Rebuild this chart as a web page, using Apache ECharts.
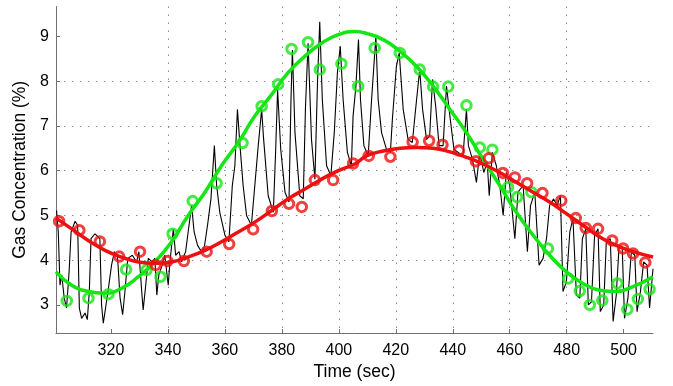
<!DOCTYPE html>
<html>
<head>
<meta charset="utf-8">
<script src="https://cdn.jsdelivr.net/npm/echarts/dist/echarts.min.js"></script>
<style>html,body{margin:0;padding:0;background:#fff;}#c{width:673px;height:386px;}</style>
</head>
<body>
<div id="c"></div>
<script>
const xTicks = [320, 340, 360, 380, 400, 420, 440, 460, 480, 500];
const yTicks = [3, 4, 5, 6, 7, 8, 9];

const traceX = [300.9,301.5,302.1,302.7,303.6,304.4,305.3,306.0,307.4,308.3,308.9,309.7,310.9,311.7,312.4,313.0,314.4,316.1,316.7,317.3,318.1,319.1,320.2,321.2,322.3,323.2,324.1,324.9,325.9,327.5,329.0,329.8,330.8,331.3,332.2,333.1,334.5,335.4,336.1,336.8,338.0,338.9,340.1,340.7,341.9,342.7,343.9,344.8,346.2,347.1,348.3,349.2,350.4,351.8,352.8,353.9,355.1,356.3,357.1,358.2,360.0,361.4,362.6,363.5,364.4,365.3,366.4,367.6,369.3,370.5,371.7,372.9,373.6,375.2,377.0,377.8,378.5,379.6,381.1,382.5,383.2,383.7,384.6,386.3,387.5,388.3,389.2,390.4,391.6,392.5,393.3,394.2,395.7,397.2,398.4,399.5,400.5,401.5,403.0,404.4,405.0,406.0,406.9,407.6,408.8,410.3,411.5,413.0,413.8,415.0,416.7,418.1,418.8,420.2,421.2,422.6,424.3,425.8,427.3,428.4,429.4,430.8,431.9,432.9,434.0,435.2,436.6,437.8,439.0,440.4,441.9,443.6,444.8,445.5,446.9,448.3,449.5,450.9,452.1,452.8,453.9,455.3,456.5,457.7,458.8,460.0,461.8,462.9,464.7,466.2,467.3,468.8,470.3,471.7,472.9,474.0,475.4,476.6,477.8,478.7,479.9,481.1,482.2,483.4,484.6,485.5,486.7,487.6,488.7,489.8,491.0,491.8,493.0,493.9,495.3,496.3,497.4,498.4,499.5,500.3,501.5,502.7,503.9,504.7,505.9,507.0,508.2,509.1,510.3];
const traceY = [5.11,4.63,3.44,3.67,3.15,2.93,3.74,4.63,4.87,4.78,2.93,2.70,2.82,2.67,3.30,4.48,4.59,4.48,3.00,2.59,2.93,3.37,3.89,4.19,4.07,3.15,2.78,3.30,4.04,4.11,3.96,4.19,3.30,2.89,3.44,4.04,3.96,4.04,3.22,3.67,3.89,4.11,3.44,3.96,4.70,4.11,4.19,3.96,4.19,4.63,5.22,4.63,4.33,4.19,4.30,4.78,5.37,6.56,5.67,5.07,4.56,4.41,5.67,6.11,7.37,6.56,5.67,5.00,4.78,5.67,6.56,7.37,6.70,5.44,5.07,6.41,7.81,6.48,5.52,5.30,7.59,8.70,6.85,5.44,5.37,7.44,8.85,6.70,5.81,7.96,9.33,7.59,6.11,5.89,6.85,8.19,8.78,7.59,6.41,6.11,7.22,7.89,8.93,7.59,6.56,6.33,7.59,9.00,7.59,6.85,6.48,6.41,7.15,8.33,8.63,7.37,6.70,6.63,7.59,8.26,7.37,6.70,6.78,8.04,7.44,6.56,6.56,7.89,7.22,6.48,6.41,6.33,7.37,6.56,6.26,5.74,6.41,5.96,6.19,5.44,6.41,6.11,5.67,5.00,5.96,5.67,4.48,5.52,5.67,4.19,5.22,5.52,3.89,4.04,4.48,5.22,5.37,5.22,5.44,3.30,3.52,4.63,4.93,3.22,3.15,4.48,4.70,3.00,3.07,4.56,4.70,2.85,3.00,4.41,4.48,2.63,3.22,4.33,4.26,2.70,3.15,4.19,4.11,2.85,3.30,3.96,3.89,2.93,3.81];

const redX = [301.8,308.9,316.1,322.9,330.2,335.7,339.8,345.6,353.6,361.5,369.9,376.5,382.5,387.0,391.6,398.0,405.0,410.5,418.1,425.9,431.7,436.4,442.2,448.1,452.7,457.6,461.8,466.1,471.5,478.1,483.2,486.7,491.0,496.0,499.8,503.3,507.6];
const redY = [4.87,4.67,4.42,4.08,4.19,3.89,3.98,3.98,4.19,4.36,4.69,5.10,5.26,5.19,5.79,5.79,6.16,6.33,6.31,6.64,6.67,6.58,6.45,6.21,6.28,5.95,5.85,5.72,5.50,5.33,4.94,4.72,4.70,4.44,4.26,4.15,3.95];

const greenX = [304.5,312.1,319.1,325.3,332.5,337.4,341.6,348.7,357.1,366.2,372.9,378.7,383.4,389.2,393.3,400.9,406.8,412.6,421.4,428.4,433.1,438.4,444.8,449.5,453.9,459.4,462.6,467.6,473.4,480.5,484.6,488.1,492.5,497.8,501.3,505.0,509.1];
const greenY = [3.09,3.15,3.24,3.79,3.78,3.63,4.59,5.32,5.72,6.62,7.44,7.93,8.72,8.87,8.26,8.39,7.89,8.74,8.63,8.26,7.88,7.88,7.46,6.52,6.47,5.63,5.41,5.52,4.26,3.59,3.31,3.00,3.10,3.48,2.90,3.13,3.35];

const greenFitX = [300.7,306.2,312.0,317.9,323.7,329.6,335.4,341.3,347.1,353.0,358.8,364.7,370.5,376.4,382.2,388.1,393.9,399.8,405.6,409.7,415.6,421.4,427.3,433.1,439.0,444.8,450.6,456.5,462.3,468.2,474.0,479.9,485.7,491.6,497.4,503.3,510.3];
const greenFitY = [3.74,3.44,3.30,3.26,3.37,3.63,3.96,4.41,5.00,5.52,6.11,6.63,7.22,7.70,8.19,8.56,8.85,9.04,9.11,9.07,8.93,8.67,8.33,7.89,7.37,6.85,6.26,5.67,5.07,4.56,4.11,3.74,3.48,3.33,3.30,3.41,3.63];

const redFitX = [300.7,306.2,312.0,317.9,323.7,329.6,335.4,341.3,347.1,353.0,358.8,364.7,370.5,376.4,382.2,388.1,393.9,399.8,405.6,409.7,415.6,421.4,427.3,433.1,439.0,444.8,450.6,456.5,462.3,468.2,474.0,479.9,485.7,491.6,497.4,503.3,510.3];
const redFitY = [4.94,4.70,4.44,4.22,4.07,3.96,3.93,3.96,4.07,4.22,4.41,4.63,4.85,5.11,5.37,5.59,5.81,6.00,6.15,6.33,6.44,6.50,6.52,6.50,6.42,6.30,6.15,5.96,5.74,5.52,5.30,5.04,4.78,4.52,4.33,4.19,4.07];

const zip = (xs, ys) => xs.map((x, i) => [x, ys[i]]);
const GREEN = '#14e614';
const RED = '#ee1010';
const AXIS = '#707070';
const FONT = 'Liberation Sans, Arial, Helvetica, sans-serif';

const chart = echarts.init(document.getElementById('c'), null, {renderer: 'canvas'});
chart.setOption({
  animation: false,
  backgroundColor: '#fff',
  grid: {left: 56, right: 20, top: 6.5, bottom: 51, containLabel: false},
  xAxis: {
    type: 'value', min: 300.7, max: 510.3,
    name: 'Time (sec)', nameLocation: 'middle', nameGap: 28,
    nameTextStyle: {fontSize: 17.5, color: '#000', fontFamily: FONT},
    axisLine: {show: true, lineStyle: {color: AXIS, width: 1}},
    axisTick: {show: true, inside: true, length: 4, customValues: xTicks, lineStyle: {color: AXIS}},
    axisLabel: {customValues: xTicks, margin: 9, fontSize: 16, color: '#000', fontFamily: FONT},
    splitLine: {show: true, showMinLine: false, showMaxLine: false, lineStyle: {color: '#888', width: 1, type: [1.5, 6.5]}}
  },
  yAxis: {
    type: 'value', min: 2.37, max: 9.67,
    name: 'Gas Concentration (%)', nameLocation: 'middle', nameGap: 25,
    nameTextStyle: {fontSize: 17.5, color: '#000', fontFamily: FONT},
    axisLine: {show: true, lineStyle: {color: AXIS, width: 1}},
    axisTick: {show: true, inside: true, length: 4, customValues: yTicks, lineStyle: {color: AXIS}},
    axisLabel: {customValues: yTicks, margin: 7, fontSize: 16, color: '#000', fontFamily: FONT},
    splitLine: {show: true, showMinLine: false, showMaxLine: false, lineStyle: {color: '#888', width: 1, type: [1.5, 6.5]}}
  },
  series: [
    {type: 'line', data: zip(traceX, traceY), showSymbol: false, symbol: 'none',
     lineStyle: {color: '#000', width: 1.1}, z: 1},
    {type: 'line', data: zip(greenFitX, greenFitY), smooth: true, showSymbol: false, symbol: 'none',
     lineStyle: {color: GREEN, width: 3.5}, z: 2},
    {type: 'scatter', data: zip(greenX, greenY), symbol: 'circle', symbolSize: 9.5,
     itemStyle: {color: 'rgba(0,0,0,0)', borderColor: GREEN, borderWidth: 3}, z: 3},
    {type: 'line', data: zip(redFitX, redFitY), smooth: true, showSymbol: false, symbol: 'none',
     lineStyle: {color: RED, width: 3.5}, z: 4},
    {type: 'scatter', data: zip(redX, redY), symbol: 'circle', symbolSize: 9.5,
     itemStyle: {color: 'rgba(0,0,0,0)', borderColor: RED, borderWidth: 3}, z: 5}
  ]
});
</script>
</body>
</html>
